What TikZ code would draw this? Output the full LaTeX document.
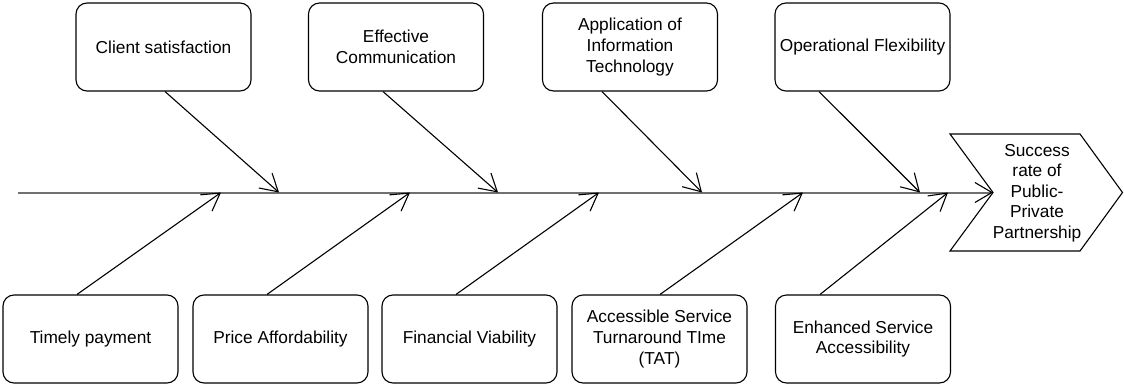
\documentclass[tikz,border=0pt]{standalone}
\usepackage{fontspec}
\setmainfont{Liberation Sans}
\usetikzlibrary{arrows.meta}

\definecolor{spinegray}{HTML}{707070}

\begin{document}
\begin{tikzpicture}[x=1pt,y=-1pt,
		cause/.style={draw,line width=1.1pt,rounded corners=11pt,minimum width=175pt,minimum height=88pt,align=center,font=\fontsize{17.3}{20.6}\selectfont},
		bone/.style={line width=1.1pt,-{Straight Barb[length=17pt,width=20pt,line width=1.1pt]}}]
		\useasboundingbox (0,0) rectangle (1124,385);
		
		% head of the fish
		\draw[line width=1.1pt] (950,134)--(1080,134)--(1122.5,192.5)--(1080,251)--(950,251)--(993,192.5)--cycle;
		\node (ppp) [align=center,font=\fontsize{17.3}{20.6}\selectfont] at (1037,193) {Success\\rate of\\Public-\\Private\\Partnership};
		
		\coordinate (tail) at (18,192.5);
		\coordinate (notch) at (993,192.5);
		\draw[line width=2pt,spinegray,-{Straight Barb[length=17pt,width=20pt,line width=1.1pt,color=black]}] (tail)--(notch);
		
		% where the bones meet the spine
		\coordinate (t1) at (279,192.5); \coordinate (t2) at (498,192.5); \coordinate (t3) at (702,192.5); \coordinate (t4) at (920,192.5);
		\coordinate (b1) at (221,192.5); \coordinate (b2) at (410,192.5); \coordinate (b3) at (599,192.5); \coordinate (b4) at (803,192.5); \coordinate (b5) at (948,192.5);
		
		\node (csat) [cause] at (163.5,47) {Client satisfaction};
		\node (comm) [cause] at (396,47) {Effective\\Communication};
		\node (itech) [cause] at (630,47) {Application of\\Information\\Technology};
		\node (flex) [cause] at (862.5,47) {Operational Flexibility};
		
		\node (pay) [cause] at (90.5,339) {Timely payment};
		\node (price) [cause] at (280.5,339) {Price Affordability};
		\node (fin) [cause] at (469.5,339) {Financial Viability};
		\node (tat) [cause] at (659.5,339) {Accessible Service\\Turnaround TIme\\(TAT)};
		\node (acc) [cause] at (863,339) {Enhanced Service\\Accessibility};
		
		\draw[bone] ([xshift=1.5pt]csat.south)--(t1);
		\draw[bone] ([xshift=-13pt]comm.south)--(t2);
		\draw[bone] ([xshift=-28pt]itech.south)--(t3);
		\draw[bone] ([xshift=-43.5pt]flex.south)--(t4);
		
		\draw[bone] ([xshift=-13.5pt]pay.north)--(b1);
		\draw[bone] ([xshift=-13.5pt]price.north)--(b2);
		\draw[bone] ([xshift=-13.5pt]fin.north)--(b3);
		\draw[bone] ([xshift=0.5pt]tat.north)--(b4);
		\draw[bone] ([xshift=-43pt]acc.north)--(b5);
	\end{tikzpicture}
\end{document}
